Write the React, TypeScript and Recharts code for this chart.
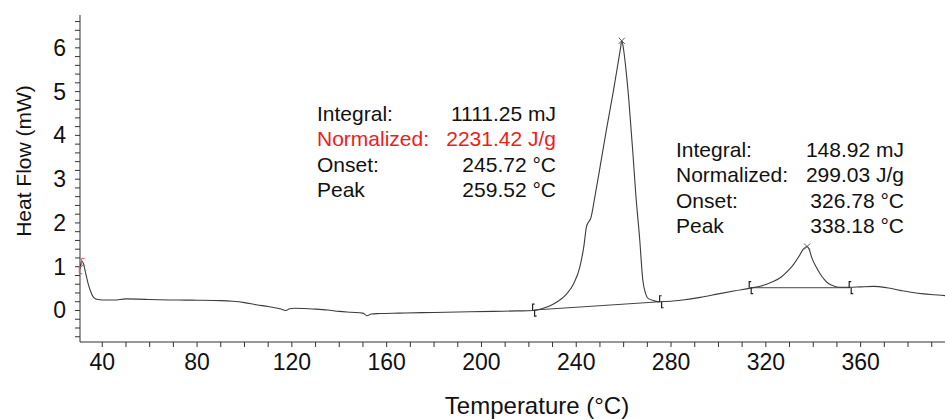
import React from 'react';
import { LineChart, Line, XAxis, YAxis, ReferenceDot, Customized } from 'recharts';

// ─── Data ───────────────────────────────────────────────────────────────────
const temps = [
  30.6, 31.3, 32.0, 33.0, 34.0, 35.0, 36.3, 38.0, 40, 45, 50, 55, 60, 70, 80, 90, 95, 100, 105, 110,
  115, 117.5, 119, 121, 125, 130, 135, 140, 145, 150, 151.7, 153.5, 157, 165, 175, 185, 195, 205, 215, 222,
  226, 229, 232, 236, 239, 241.5, 243.3, 244.3, 246.3, 247.7, 249.8, 252.7, 255.5, 257.6, 258.7, 259.2, 260.0, 261.0, 262.2, 263.9,
  265.2, 266.7, 268.1, 269.3, 270.4, 273, 275.4, 280, 285, 292.3, 300, 307, 313.4, 318, 322.6, 326.4, 329.6, 331.8, 333.8, 335.8,
  337.4, 338.4, 339.3, 341.2, 342.9, 344.8, 346.6, 348.6, 351.2, 355.6, 360, 365.4, 371, 376.7, 382, 386.6, 391, 395.6,
];
const heatFlow = [
  0.95, 1.13, 1.08, 0.85, 0.62, 0.45, 0.3, 0.25, 0.24, 0.24, 0.265, 0.26, 0.25, 0.24, 0.235, 0.225, 0.21, 0.18, 0.13, 0.09,
  0.04, 0.0, 0.04, 0.05, 0.045, 0.03, 0.01, -0.02, -0.04, -0.06, -0.12, -0.08, -0.07, -0.06, -0.05, -0.04, -0.03, -0.02, -0.01, 0.0,
  0.05, 0.11, 0.2, 0.38, 0.62, 0.99, 1.5, 1.91, 2.14, 2.55, 3.2, 4.12, 4.96, 5.64, 6.0, 6.16, 5.95, 5.49, 4.8, 3.59,
  2.6, 1.68, 0.69, 0.38, 0.27, 0.22, 0.2, 0.21, 0.24, 0.3, 0.38, 0.45, 0.51, 0.56, 0.65, 0.76, 0.92, 1.06, 1.22, 1.4,
  1.46, 1.38, 1.22, 1.0, 0.84, 0.7, 0.61, 0.56, 0.53, 0.53, 0.54, 0.55, 0.52, 0.46, 0.41, 0.38, 0.36, 0.34,
];

// integration baselines (start / end)
const baseline1T = [222.0, 275.6];
const baseline1V = [0.01, 0.2];
const baseline2T = [313.4, 355.6];
const baseline2V = [0.52, 0.52];

// peak maxima
const peaksT = [259.2, 337.4];
const peaksV = [6.16, 1.46];

// red start markers
const startT = [30.7, 31.7];
const startV = [0.91, 1.1];

const xLabels = [40, 80, 120, 160, 200, 240, 280, 320, 360];
const yLabels = [0, 1, 2, 3, 4, 5, 6];

const peak1Text = [
  ['Integral:', '1111.25 mJ'],
  ['Normalized:', '2231.42 J/g'],
  ['Onset:', '245.72 °C'],
  ['Peak', '259.52 °C'],
];
const peak2Text = [
  ['Integral:', '148.92 mJ'],
  ['Normalized:', '299.03 J/g'],
  ['Onset:', '326.78 °C'],
  ['Peak', '338.18 °C'],
];

const curve = temps.map((t, i) => ({ t, v: heatFlow[i] }));
const base1 = baseline1T.map((t, i) => ({ t, v: baseline1V[i] }));
const base2 = baseline2T.map((t, i) => ({ t, v: baseline2V[i] }));

const xTicks: number[] = [];
for (let t = 40; t <= 390; t += 10) xTicks.push(t);
const yTicks: number[] = [];
for (let i = -3; i <= 33; i++) yTicks.push(Math.round(i * 2) / 10);

const FONT = '"Liberation Sans", Arial, sans-serif';
const INK = '#3c3c3c';

const XTick = ({ x, y, payload }: any) =>
  xLabels.includes(payload.value) ? (
    <text x={x} y={y} dy={21} textAnchor="middle" fontSize={23} fontFamily={FONT} fill="#111">
      {payload.value}
    </text>
  ) : null;

const YTick = ({ x, y, payload }: any) =>
  yLabels.includes(payload.value) ? (
    <text x={x - 6} y={y} dy={8} textAnchor="end" fontSize={23} fontFamily={FONT} fill="#111">
      {payload.value}
    </text>
  ) : null;

const PeakMark = ({ cx, cy }: any) => (
  <g stroke="#555" strokeWidth={1}>
    <line x1={cx - 3} y1={cy - 3} x2={cx + 3} y2={cy + 3} />
    <line x1={cx - 3} y1={cy + 3} x2={cx + 3} y2={cy - 3} />
  </g>
);

const BaseMark = ({ cx, cy }: any) => (
  <g stroke="#222" strokeWidth={1.2} fill="none">
    <path d={`M${cx + 1},${cy - 6} L${cx - 1},${cy - 6} L${cx - 1},${cy}`} />
    <path d={`M${cx + 1},${cy} L${cx + 1},${cy + 6} L${cx + 3},${cy + 6}`} />
  </g>
);

const StartMark = ({ cx, cy }: any) => (
  <path d={`M${cx + 2},${cy - 4} L${cx - 1},${cy - 4} L${cx - 1},${cy + 3} L${cx + 2},${cy + 3}`} stroke="#e05555" strokeWidth={1} fill="none" />
);

const TextBlock = ({ x, xEnd, y0, rows, red }: { x: number; xEnd: number; y0: number; rows: string[][]; red?: boolean }) => (
  <g fontFamily={FONT} fontSize={21}>
    {rows.map((r, i) => {
      const fill = red && r[0] === 'Normalized:' ? '#ee1c1c' : '#111';
      return (
        <g key={r[0]} fill={fill}>
          <text x={x} y={y0 + i * 25.4}>{r[0]}</text>
          <text x={xEnd} y={y0 + i * 25.4} textAnchor="end">{r[1]}</text>
        </g>
      );
    })}
  </g>
);

const Overlay = () => (
  <g>
    <text x={24} y={161} transform="rotate(-90 24 161)" textAnchor="middle" dy={7} fontSize={21} fontFamily={FONT} fill="#111">
      Heat Flow (mW)
    </text>
    <text x={537} y={414} textAnchor="middle" fontSize={24} fontFamily={FONT} fill="#111">
      Temperature (°C)
    </text>
    <TextBlock x={317} xEnd={556} y0={121} rows={peak1Text} red />
    <TextBlock x={676} xEnd={904} y0={157} rows={peak2Text} />
  </g>
);

export default function App() {
  return (
    <div style={{ position: 'absolute', left: 0, top: 0, background: '#fff' }}>
      <LineChart width={945} height={419} margin={{ top: 15, right: 0, bottom: 0, left: 0 }}>
        <XAxis
          type="number"
          dataKey="t"
          domain={[30.6, 395.6]}
          allowDataOverflow
          ticks={xTicks}
          interval={0}
          height={77}
          tickSize={5}
          tickMargin={2}
          stroke="#333"
          tick={<XTick />}
        />
        <YAxis
          type="number"
          dataKey="v"
          domain={[-0.72, 6.75]}
          allowDataOverflow
          ticks={yTicks}
          interval={0}
          width={80}
          tickSize={5}
          tickMargin={3}
          stroke="#333"
          tick={<YTick />}
        />
        <Line data={base1} dataKey="v" type="linear" stroke="#444" strokeWidth={1} dot={false} isAnimationActive={false} />
        <Line data={base2} dataKey="v" type="linear" stroke="#444" strokeWidth={1} dot={false} isAnimationActive={false} />
        <Line data={curve} dataKey="v" type="monotone" stroke={INK} strokeWidth={1.1} dot={false} isAnimationActive={false} />
        {peaksT.map((t, i) => (
          <ReferenceDot key={`p${i}`} x={t} y={peaksV[i]} shape={<PeakMark />} />
        ))}
        {[...baseline1T.map((t, i) => [t, baseline1V[i]]), ...baseline2T.map((t, i) => [t, baseline2V[i]])].map(([t, v], i) => (
          <ReferenceDot key={`b${i}`} x={t} y={v} shape={<BaseMark />} />
        ))}
        {startT.map((t, i) => (
          <ReferenceDot key={`s${i}`} x={t} y={startV[i]} shape={<StartMark />} />
        ))}
        <Customized component={Overlay} />
      </LineChart>
    </div>
  );
}
